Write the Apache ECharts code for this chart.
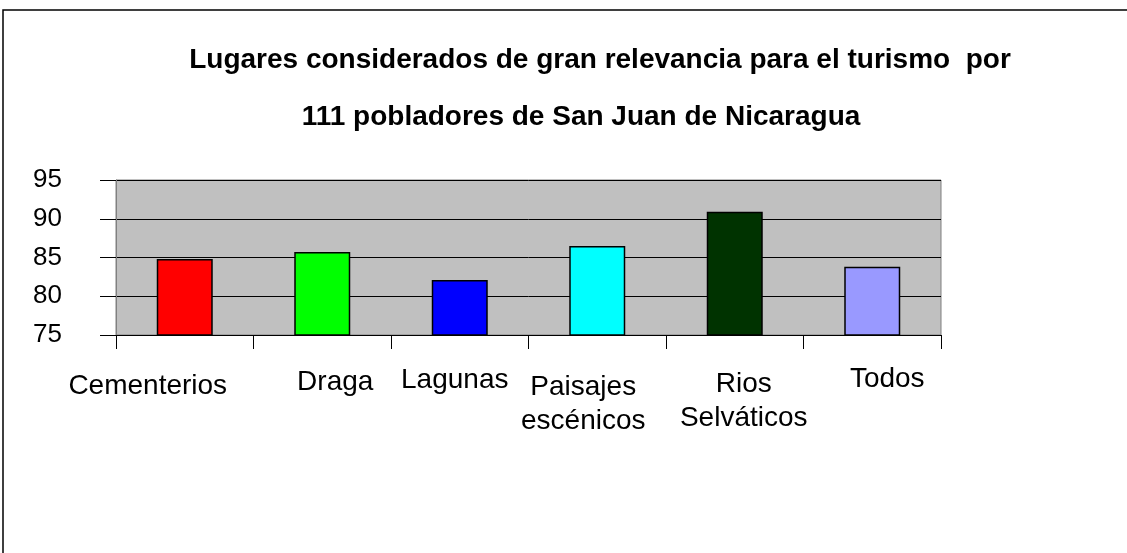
<!DOCTYPE html>
<html>
<head>
<meta charset="utf-8">
<script src="https://cdn.jsdelivr.net/npm/echarts@6/dist/echarts.min.js"></script>
<style>
html,body{margin:0;padding:0;background:#fff;}
#chart{width:1127px;height:553px;}
</style>
</head>
<body>
<div id="chart"></div>
<script>
const titleLine1 = 'Lugares considerados de gran relevancia para el turismo  por';
const titleLine2 = '111 pobladores de San Juan de Nicaragua';
const categories = ['Cementerios', 'Draga', 'Lagunas', 'Paisajes\nescénicos', 'Rios\nSelváticos', 'Todos'];
const values = [84.8, 85.7, 82.1, 86.5, 90.9, 83.8];
const barColors = ['#ff0000', '#00ff00', '#0000ff', '#00ffff', '#003300', '#9999ff'];
const yTicks = [75, 80, 85, 90, 95];

// small per-label nudges imitating the reference's label placement [top, right, bottom, left]
const labelPads = [[7,74,0,0],[3,0,0,26],[1,10,0,0],[8,28,0,0],[5,0,0,18],[0,0,0,30]];

const FONT = '"Liberation Sans", Arial, sans-serif';
const chart = echarts.init(document.getElementById('chart'), null, {renderer: 'canvas'});
chart.setOption({
  animation: false,
  backgroundColor: '#ffffff',
  title: [
    {text: titleLine1, left: 595, top: 27, textAlign: 'center',
     textStyle: {fontFamily: FONT, fontSize: 28, fontWeight: 'bold', color: '#000', lineHeight: 57}},
    {text: titleLine2, left: 576, top: 84, textAlign: 'center',
     textStyle: {fontFamily: FONT, fontSize: 28, fontWeight: 'bold', color: '#000', lineHeight: 57}}
  ],
  graphic: [{
    type: 'rect', silent: true, z: 100,
    shape: {x: 3, y: 10, width: 1200, height: 600},
    style: {fill: 'none', stroke: '#000', lineWidth: 1.5}
  }],
  grid: {
    left: 116, right: 186, top: 180, bottom: 218,
    show: true, backgroundColor: '#c0c0c0', borderColor: '#808080', borderWidth: 1
  },
  xAxis: {
    type: 'category',
    data: categories.map((c, i) => ({value: c, textStyle: {padding: labelPads[i]}})),
    boundaryGap: true,
    axisLine: {show: true, lineStyle: {color: '#000', width: 1}},
    axisTick: {show: true, alignWithLabel: false, length: 14, lineStyle: {color: '#000'}},
    axisLabel: {interval: 0, margin: 27, fontFamily: FONT, fontSize: 28, color: '#000', lineHeight: 34, verticalAlign: 'top'},
    splitLine: {show: false}
  },
  yAxis: {
    type: 'value', min: 75, max: 95, interval: 5,
    axisLine: {show: true, lineStyle: {color: '#808080', width: 1}},
    axisTick: {show: true, length: 16, lineStyle: {color: '#000'}},
    axisLabel: {margin: 54, fontFamily: FONT, fontSize: 26, color: '#000', padding: [0,0,17,0],
      formatter: v => yTicks.includes(v) ? String(v) : ''},
    splitLine: {show: true, lineStyle: {color: '#000', width: 1}}
  },
  series: [{
    type: 'bar',
    data: values.map((v, i) => ({value: v, itemStyle: {color: barColors[i]}})),
    barWidth: 56,
    itemStyle: {borderColor: '#000', borderWidth: 1.5},
    label: {show: false}
  }]
});
</script>
</body>
</html>
